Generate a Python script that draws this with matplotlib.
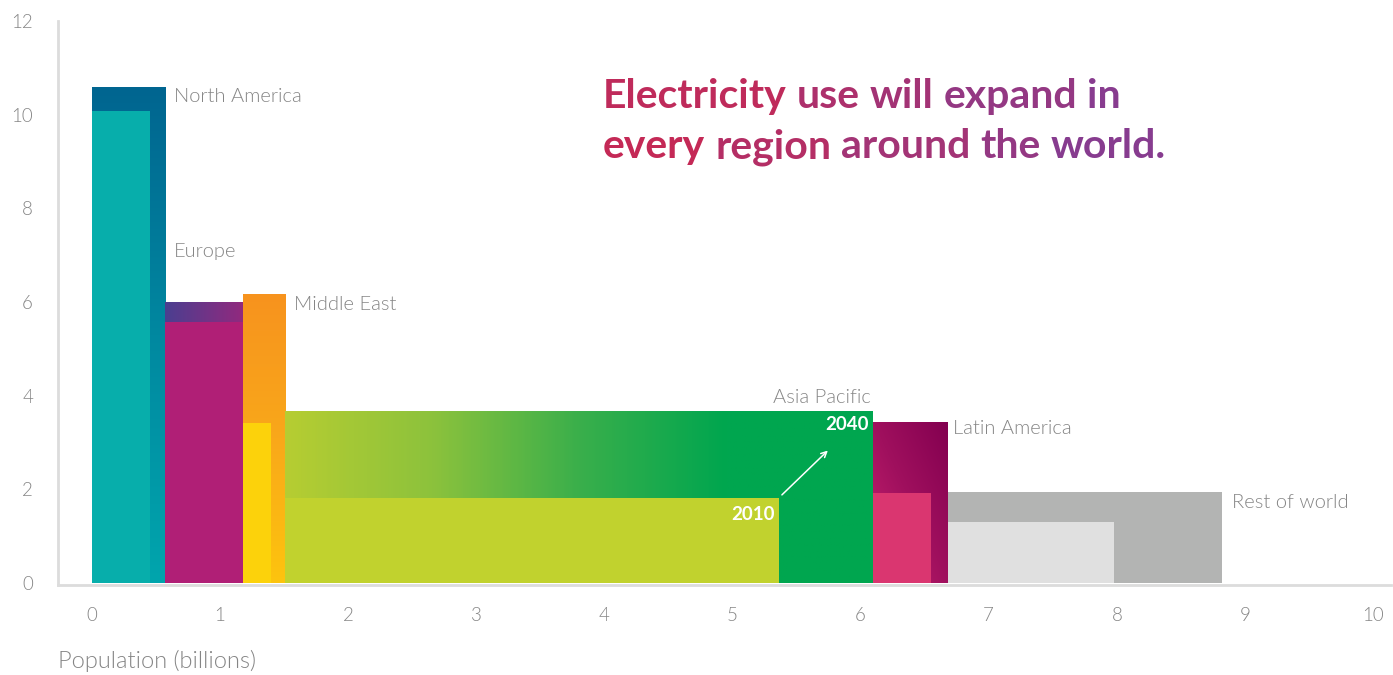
import numpy as np
import matplotlib
matplotlib.use("Agg")
import matplotlib.pyplot as plt
from matplotlib.colors import LinearSegmentedColormap

plt.rcParams['font.family'] = ['Lato', 'DejaVu Sans']

# data
regions = ["North America", "Europe", "Middle East", "Asia Pacific", "Latin America", "Rest of world"]
pop_2040 = [0.57, 0.61, 0.33, 4.585, 0.585, 2.14]   # billions, bar widths
pop_2010 = [0.45, 0.61, 0.22, 3.85, 0.455, 1.30]
use_2040 = [10.6, 6.0, 6.17, 3.68, 3.44, 1.94]      # bar heights
use_2010 = [10.08, 5.58, 3.42, 1.82, 1.92, 1.30]
x_ticks = [0, 1, 2, 3, 4, 5, 6, 7, 8, 9, 10]
y_ticks = [0, 2, 4, 6, 8, 10, 12]
title_lines = ["Electricity use will expand in", "every region around the world."]
x_label = "Population (billions)"

# styles
col_2010 = ['#07aeab', '#b01f76', '#fcd20b', '#c1d22e', '#da3670', '#e0e0e0']
# gradient for the 2040 bars: (direction, colour stops from left/bottom to right/top)
grad_2040 = [
    ('v', ['#00a5ad', '#0088a0', '#006590']),
    ('h', ['#4b3f90', '#92297e']),
    ('v', ['#fdc40e', '#f9a81a', '#f7931e']),
    ('h', ['#b6cd32', '#8cc23c', '#3aaf4b', '#00a64f', '#00a64f']),
    ('d', ['#c8226f', '#a0105e', '#830050']),
    ('s', ['#b3b4b3']),
]
label_pos = [(0.64, 10.58), (0.64, 7.25), (1.58, 6.13), (6.08, 4.14), (6.72, 3.48), (8.9, 1.9)]
label_ha = ['left', 'left', 'left', 'right', 'left', 'left']
gray = '#858585'
light = 300

W, H = 1393, 675
fig = plt.figure(figsize=(W / 100, H / 100), dpi=100)
ax = fig.add_axes([58 / W, 90 / H, 1333 / W, 564 / H])

left = np.concatenate([[0], np.cumsum(pop_2040)[:-1]])

bars40 = ax.bar(left, use_2040, width=pop_2040, align='edge', zorder=1, linewidth=0)
for bar, (kind, stops), l, w, h in zip(bars40, grad_2040, left, pop_2040, use_2040):
    bar.set_facecolor(stops[-1])
    if kind == 's':
        continue
    n = 200
    g = np.linspace(0, 1, n)
    if kind == 'v':
        img = np.tile(g[:, None], (1, n))
    elif kind == 'h':
        img = np.tile(g[None, :], (n, 1))
    else:
        img = (g[None, :] + g[:, None]) / 2
    cmap = LinearSegmentedColormap.from_list('g', stops)
    im = ax.imshow(img, cmap=cmap, origin='lower', aspect='auto',
                   extent=(l, l + w, 0, h), zorder=1.5, interpolation='bilinear')
    im.set_clip_path(bar)

ax.bar(left, use_2010, width=pop_2010, align='edge', color=col_2010, zorder=2, linewidth=0)

for name, (lx, ly), ha in zip(regions, label_pos, label_ha):
    ax.text(lx, ly, name, ha=ha, va='top', fontsize=14.5, color=gray, fontweight=light)

# 2010 -> 2040 marker on Asia Pacific
ap = regions.index("Asia Pacific")
x10 = left[ap] + pop_2010[ap]
x40 = left[ap] + pop_2040[ap]
ax.text(x10 - 0.03, use_2010[ap] - 0.35, "2010", ha='right', va='center', color='white',
        fontsize=13.5, fontweight='bold', zorder=3)
ax.text(x40 - 0.03, use_2040[ap] - 0.3, "2040", ha='right', va='center', color='white',
        fontsize=13.5, fontweight='bold', zorder=3)
ax.annotate("", xy=(x10 + 0.4, use_2010[ap] + 1.05), xytext=(x10 + 0.01, use_2010[ap] + 0.02),
            arrowprops=dict(arrowstyle='->', color='white', lw=1.1, mutation_scale=10), zorder=3)

ax.set_xlim(-0.265, 10.14)
ax.set_ylim(-0.043, 12)
ax.set_xticks(x_ticks)
ax.set_yticks(y_ticks)
ax.tick_params(length=0, labelsize=13.5, labelcolor=gray)
ax.tick_params(axis='x', pad=16)
ax.tick_params(axis='y', pad=18)
for lab in ax.get_xticklabels() + ax.get_yticklabels():
    lab.set_fontweight(light)
for s in ['top', 'right']:
    ax.spines[s].set_visible(False)
for s in ['left', 'bottom']:
    ax.spines[s].set_color('#dcdcdc')
    ax.spines[s].set_linewidth(2)

fig.text(58 / W, 1 - 661 / H, x_label, ha='left', va='center', fontsize=17,
         color=gray, fontweight=light)

# title, coloured word by word from crimson to purple
fig.canvas.draw()
renderer = fig.canvas.get_renderer()
tcmap = LinearSegmentedColormap.from_list('t', ['#cb2750', '#7e3f98'])
fs = 29.5
probe1 = fig.text(0, 0, "xx", fontsize=fs, fontweight='bold')
probe2 = fig.text(0, 0, "x x", fontsize=fs, fontweight='bold')
space = probe2.get_window_extent(renderer).width - probe1.get_window_extent(renderer).width
probe1.remove()
probe2.remove()
x0, x1 = 603, 1178
for i, line in enumerate(title_lines):
    x = x0
    y = H - (108 + 50 * i)
    for word in line.split():
        t = fig.text(x / W, y / H, word, fontsize=fs, fontweight='bold', va='baseline', ha='left')
        bb = t.get_window_extent(renderer)
        t.set_color(tcmap(min(1, ((bb.x0 + bb.x1) / 2 - x0) / (x1 - x0))))
        x = bb.x1 + space

fig.savefig("out.png", dpi=100)
